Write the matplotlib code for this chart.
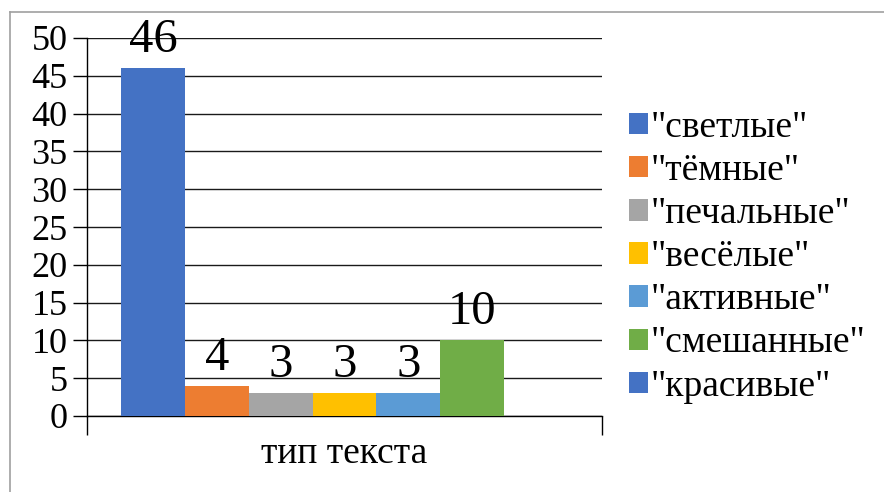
import matplotlib.pyplot as plt
from matplotlib.lines import Line2D

# данные
category = 'тип текста'
series = ['"светлые"', '"тёмные"', '"печальные"', '"весёлые"',
          '"активные"', '"смешанные"', '"красивые"']
values = [46, 4, 3, 3, 3, 10, 0]
colors = ['#4472C4', '#ED7D31', '#A5A5A5', '#FFC000',
          '#5B9BD5', '#70AD47', '#4472C4']

FONT = ['Liberation Serif', 'DejaVu Serif']
plt.rcParams['font.family'] = FONT

fig = plt.figure(figsize=(8.84, 4.92), dpi=100)
ax = fig.add_axes([87 / 884, 1 - 416 / 492, (602 - 87) / 884, (416 - 38) / 492])

# рамка вокруг диаграммы (видны верх и левая сторона)
fig.add_artist(Line2D([10 / 884, 1], [1 - 12 / 492, 1 - 12 / 492], color='#A0A0A0', lw=1.2))
fig.add_artist(Line2D([10 / 884, 10 / 884], [0, 1 - 12 / 492], color='#A0A0A0', lw=1.2))

n = len(values)
bar_w = 0.124
start = -bar_w * n / 2
for i, (name, v, c) in enumerate(zip(series, values, colors)):
    x = start + bar_w * (i + 0.5)
    ax.bar(x, v, width=bar_w, color=c, label=name, zorder=3)
    if v > 0:
        ax.text(x, v + 0.8, str(v), ha='center', va='bottom', fontsize=35,
                family=FONT, zorder=4)

ax.set_xlim(-0.5, 0.5)
ax.set_ylim(0, 50)
ax.set_yticks(range(0, 51, 5))
ax.set_yticklabels([str(t) for t in range(0, 51, 5)], family=FONT, fontsize=26)
ax.yaxis.grid(True, color='#1a1a1a', lw=1, zorder=0)
ax.set_xticks([-0.5, 0.5])
ax.set_xticklabels(['', ''])
ax.tick_params(axis='x', length=14, width=1, direction='out')
ax.tick_params(axis='y', length=10, width=1, pad=4)
for s in ['top', 'right']:
    ax.spines[s].set_visible(False)
ax.spines['left'].set_linewidth(1)
ax.spines['bottom'].set_linewidth(1)
ax.text(0.5, -0.055, category, transform=ax.transAxes, ha='center', va='top',
        fontsize=27, family=FONT)

ax.legend(loc='center left', bbox_to_anchor=(614 / 884, 1 - 257 / 492), bbox_transform=fig.transFigure,
          frameon=False, prop={'family': FONT, 'size': 27}, handlelength=0.5, handleheight=0.5,
          handletextpad=0.08, labelspacing=0.23, borderaxespad=0)

fig.savefig('out.png', dpi=100)
